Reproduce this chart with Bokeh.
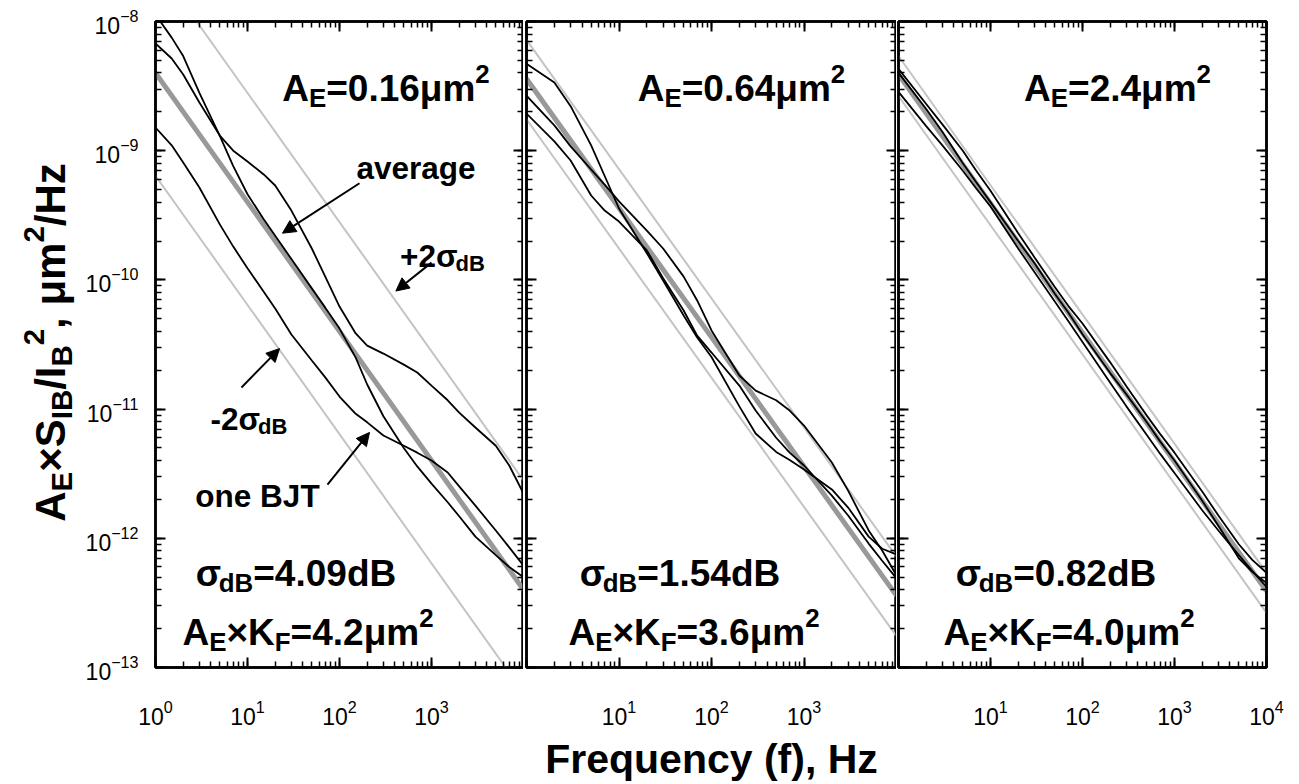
import math
from bokeh.plotting import figure
from bokeh.models import Range1d, LogAxis, LogTicker, Label, Arrow, NormalHead
from bokeh.layouts import row
from bokeh.embed import file_html
from bokeh.resources import INLINE

# ---------------- data ----------------
FREQ_1 = [1, 1.5, 2, 3, 5, 7, 10, 15, 20, 30, 50, 70, 100, 150, 200, 300,
          500, 700, 1000, 1500, 2000, 3000, 5000, 7000, 10000]
P1_BJT_A = [1.13e-8, 7.5e-9, 5.4e-9, 2.8e-9, 1.3e-9, 7.6e-10, 4.6e-10, 2.95e-10,
            2.2e-10, 1.45e-10, 8.6e-11, 6.1e-11, 4.2e-11, 2.5e-11, 1.55e-11,
            8.8e-12, 5.0e-12, 3.6e-12, 2.65e-12, 1.9e-12, 1.48e-12, 1.03e-12,
            7.4e-13, 6.0e-13, 5.0e-13]
P1_BJT_B = [6.76e-9, 5.17e-9, 3.89e-9, 2.36e-9, 1.31e-9, 1.0e-9, 8.25e-10, 6.55e-10,
            5.38e-10, 3.44e-10, 1.75e-10, 1.06e-10, 6.22e-11, 3.85e-11, 3.1e-11,
            2.69e-11, 2.21e-11, 1.92e-11, 1.52e-11, 1.17e-11, 9.4e-12, 7.2e-12,
            5.2e-12, 3.66e-12, 2.22e-12]
P1_BJT_C = [1.51e-9, 1.10e-9, 8.1e-10, 5.19e-10, 2.69e-10, 1.81e-10, 1.23e-10, 8.1e-11,
            6.0e-11, 3.78e-11, 2.38e-11, 1.76e-11, 1.25e-11, 9.2e-12, 7.9e-12,
            6.25e-12, 5.2e-12, 4.6e-12, 4.0e-12, 3.23e-12, 2.52e-12, 1.79e-12,
            1.15e-12, 8.5e-13, 6.15e-13]

FREQ = [1, 2, 3, 5, 7, 10, 20, 30, 50, 70, 100, 200, 300, 500, 700, 1000,
        2000, 3000, 5000, 7000, 10000]
P2_BJT_A = [4.71e-9, 3.37e-9, 2.21e-9, 1.10e-9, 6.37e-10, 3.57e-10, 1.61e-10, 9.9e-11,
            5.3e-11, 3.58e-11, 2.53e-11, 1.05e-11, 6.47e-12, 4.66e-12, 4.04e-12,
            3.41e-12, 2.39e-12, 1.73e-12, 1.03e-12, 8.3e-13, 7.5e-13]
P2_BJT_B = [2.67e-9, 1.57e-9, 1.08e-9, 7.15e-10, 5.47e-10, 4.05e-10, 2.41e-10, 1.75e-10,
            1.06e-10, 6.93e-11, 4.06e-11, 1.82e-11, 1.39e-11, 1.17e-11, 9.75e-12,
            7.46e-12, 3.86e-12, 2.34e-12, 1.15e-12, 8.05e-13, 5.15e-13]
P2_BJT_C = [1.94e-9, 1.18e-9, 8.4e-10, 4.5e-10, 3.44e-10, 2.83e-10, 1.69e-10, 1.03e-10,
            5.8e-11, 3.7e-11, 2.74e-11, 1.52e-11, 9.75e-12, 6.0e-12, 4.6e-12,
            3.66e-12, 2.14e-12, 1.5e-12, 9.1e-13, 6.7e-13, 4.9e-13]

P3_BJT_A = [4.3e-9, 2.3e-9, 1.6e-9, 1.0e-9, 7.0e-10, 4.9e-10, 2.3e-10, 1.5e-10,
            8.8e-11, 6.3e-11, 4.6e-11, 2.3e-11, 1.5e-11, 8.9e-12, 6.4e-12,
            4.6e-12, 2.3e-12, 1.5e-12, 9.0e-13, 6.8e-13, 5.4e-13]
P3_BJT_B = [4.0e-9, 2.1e-9, 1.4e-9, 8.0e-10, 5.7e-10, 4.0e-10, 2.0e-10, 1.35e-10,
            7.8e-11, 5.6e-11, 3.8e-11, 1.9e-11, 1.3e-11, 7.9e-12, 5.6e-12,
            4.0e-12, 1.95e-12, 1.25e-12, 7.0e-13, 5.5e-13, 4.5e-13]
P3_BJT_C = [2.85e-9, 1.55e-9, 1.1e-9, 7.0e-10, 5.1e-10, 3.7e-10, 1.75e-10, 1.15e-10,
            6.8e-11, 4.8e-11, 3.3e-11, 1.6e-11, 1.05e-11, 6.3e-12, 4.5e-12,
            3.2e-12, 1.65e-12, 1.15e-12, 7.4e-13, 5.6e-13, 4.2e-13]

ENDS = [1, 10000]
P1_AVG = [4.0e-9, 4.0e-13]
P1_UP = [2.8e-8, 2.8e-12]
P1_LO = [6.4e-10, 6.4e-14]
P2_AVG = [3.6e-9, 3.6e-13]
P2_UP = [7.2e-9, 7.2e-13]
P2_LO = [1.75e-9, 1.75e-13]
P3_AVG = [3.9e-9, 3.9e-13]
P3_UP = [5.4e-9, 5.4e-13]
P3_LO = [2.65e-9, 2.65e-13]

# x tick labels that are left out in each panel
X_HIDE_P1 = [10000]
X_HIDE_P2 = [1, 10000]
X_HIDE_P3 = [1]

# ---------------- layout constants ----------------
FRAME_TOP = 21
FRAME_H = 646
FRAME_BOTTOM = FRAME_TOP + FRAME_H
BOTTOM_BORDER = 784 - FRAME_BOTTOM
TITLE_W = 82
FONT = "Liberation Sans"
BIG = 37
ANN = 31.5

# Arial/Liberation Sans Bold advance widths (1/1000 em)
W = {' ': 278, '+': 584, ',': 278, '-': 333, '.': 278, '/': 278, '=': 584,
     '(': 333, ')': 333, 'A': 722, 'B': 722, 'E': 667, 'F': 611, 'H': 722,
     'I': 278, 'J': 556, 'K': 722, 'S': 667, 'T': 611, 'a': 556, 'd': 611,
     'e': 556, 'g': 611, 'm': 889, 'n': 611, 'o': 611, 'r': 389, 'v': 556,
     'z': 500, 'μ': 611, '×': 584, 'σ': 620}
for _d in "0123456789":
    W[_d] = 556

RATIO = 0.7


def tw(s, size):
    return sum(W.get(c, 600) for c in s) / 1000.0 * size


def run_size(kind, size):
    return size if kind == "n" else size * RATIO


def rich(p, left, runs, cx, base, size, rotated=False):
    """Place a sequence of (text, kind) runs; kind n/sub/sup. Window coords."""
    total = sum(tw(t, run_size(k, size)) for t, k in runs)
    if not rotated:
        x = cx - total / 2.0
        for t, k in runs:
            s = run_size(k, size)
            dy = 0 if k == "n" else (-0.26 * size if k == "sub" else 0.40 * size)
            p.add_layout(Label(x=x - left, y=(FRAME_BOTTOM - base) + dy,
                               x_units="screen", y_units="screen", text=t,
                               text_font=FONT, text_font_style="bold",
                               text_font_size=f"{s:.1f}px", text_color="black",
                               text_align="left", text_baseline="alphabetic"))
            x += tw(t, s)
    else:
        y = cx + total / 2.0
        for t, k in runs:
            s = run_size(k, size)
            dx = 0 if k == "n" else (0.26 * size if k == "sub" else -0.40 * size)
            p.add_layout(Label(x=base + dx - left, y=FRAME_BOTTOM - y,
                               x_units="screen", y_units="screen", text=t,
                               angle=math.pi / 2, text_font=FONT,
                               text_font_style="bold",
                               text_font_size=f"{s:.1f}px", text_color="black",
                               text_align="left", text_baseline="alphabetic"))
            y -= tw(t, s)


def style_axis(ax, labels, hide=()):
    ax.ticker = LogTicker(num_minor_ticks=10)
    ax.axis_line_color = "black"
    ax.axis_line_width = 2.5
    ax.major_tick_in = 10
    ax.major_tick_out = 0
    ax.minor_tick_in = 6
    ax.minor_tick_out = 0
    ax.major_tick_line_color = "black"
    ax.major_tick_line_width = 2
    ax.minor_tick_line_color = "black"
    ax.minor_tick_line_width = 1.5
    if labels:
        ax.major_label_text_font = FONT
        ax.major_label_text_font_size = "23px"
        ax.major_label_text_color = "black"
        if hide:
            ax.major_label_overrides = {h: "" for h in hide}
    else:
        ax.major_label_text_font_size = "1px"
        ax.major_label_text_alpha = 0
        ax.major_label_standoff = 0


def make_panel(border_left, frame_w, border_right, xhide, ylabels):
    p = figure(frame_width=frame_w, frame_height=FRAME_H,
               x_axis_type="log", y_axis_type="log",
               x_range=Range1d(1, 1e4), y_range=Range1d(1e-13, 1e-8),
               output_backend="svg", toolbar_location=None,
               min_border_left=border_left, min_border_right=border_right,
               min_border_top=FRAME_TOP, min_border_bottom=BOTTOM_BORDER,
               background_fill_color="white", border_fill_color="white")
    p.outline_line_color = "black"
    p.outline_line_width = 2.5
    p.xgrid.visible = False
    p.ygrid.visible = False
    bx = p.xaxis[0]
    style_axis(bx, True, xhide)
    bx.major_label_standoff = 32
    ly = p.yaxis[0]
    style_axis(ly, ylabels)
    if ylabels:
        ly.major_label_standoff = 17
    ry = LogAxis()
    style_axis(ry, False)
    p.add_layout(ry, "right")
    tx = LogAxis()
    style_axis(tx, False)
    p.add_layout(tx, "above")
    return p, bx


def draw_lines(p, avg, up, lo, freq, curves):
    p.line(ENDS, up, line_color="#c4c4c4", line_width=2)
    p.line(ENDS, lo, line_color="#c4c4c4", line_width=2)
    p.line(ENDS, avg, line_color="#999999", line_width=5)
    for c in curves:
        p.line(freq, c, line_color="black", line_width=1.8)


def arrow(p, xs, ys, xe, ye):
    p.add_layout(Arrow(x_start=xs, y_start=ys, x_end=xe, y_end=ye,
                       line_color="black", line_width=2,
                       end=NormalHead(size=13, fill_color="black",
                                      line_color="black", line_width=1)))


# ---------------- y-title strip ----------------
pt = figure(frame_width=TITLE_W, frame_height=FRAME_H,
            x_range=Range1d(0, 1), y_range=Range1d(0, 1),
            x_axis_location=None, y_axis_location=None,
            output_backend="svg", toolbar_location=None,
            min_border_left=0, min_border_right=0,
            min_border_top=FRAME_TOP, min_border_bottom=BOTTOM_BORDER,
            background_fill_color="white", border_fill_color="white")
pt.outline_line_color = None
pt.xgrid.visible = False
pt.ygrid.visible = False
rich(pt, 0, [("A", "n"), ("E", "sub"), ("×S", "n"), ("IB", "sub"), ("/I", "n"),
             ("B", "sub"), ("2", "sup"), (", μm", "n"), ("2", "sup"), ("/Hz", "n")],
     342, 50, 42, rotated=True)

# ---------------- panels ----------------
L1, L2, L3 = 154, 525, 897
p1, b1 = make_panel(154 - TITLE_W, 368, 0, X_HIDE_P1, True)
p2, b2 = make_panel(3, 370, 0, X_HIDE_P2, False)
p3, b3 = make_panel(2, 368, 34, X_HIDE_P3, False)

draw_lines(p1, P1_AVG, P1_UP, P1_LO, FREQ_1, [P1_BJT_A, P1_BJT_B, P1_BJT_C])
draw_lines(p2, P2_AVG, P2_UP, P2_LO, FREQ, [P2_BJT_A, P2_BJT_B, P2_BJT_C])
draw_lines(p3, P3_AVG, P3_UP, P3_LO, FREQ, [P3_BJT_A, P3_BJT_B, P3_BJT_C])

# arrows (panel 1)
arrow(p1, 165, 5.6e-10, 24, 2.3e-10)      # average
arrow(p1, 1000, 1.36e-10, 410, 8.2e-11)   # +2 sigma
arrow(p1, 8.6, 1.47e-11, 22.3, 2.94e-11)  # -2 sigma
arrow(p1, 74, 2.6e-12, 212, 6.6e-12)      # one BJT

# panel texts
rich(p1, L1, [("A", "n"), ("E", "sub"), ("=0.16μm", "n"), ("2", "sup")], 384.5, 88, BIG)
rich(p1, L1, [("average", "n")], 414.5, 167, ANN)
rich(p1, L1, [("+2σ", "n"), ("dB", "sub")], 441, 255, ANN)
rich(p1, L1, [("-2σ", "n"), ("dB", "sub")], 247.5, 418, ANN)
rich(p1, L1, [("one BJT", "n")], 256, 495, ANN)
rich(p1, L1, [("σ", "n"), ("dB", "sub"), ("=4.09dB", "n")], 294.5, 573, BIG)
rich(p1, L1, [("A", "n"), ("E", "sub"), ("×K", "n"), ("F", "sub"), ("=4.2μm", "n"), ("2", "sup")], 306.5, 632, BIG)

rich(p2, L2, [("A", "n"), ("E", "sub"), ("=0.64μm", "n"), ("2", "sup")], 740, 88, BIG)
rich(p2, L2, [("σ", "n"), ("dB", "sub"), ("=1.54dB", "n")], 678.5, 573, BIG)
rich(p2, L2, [("A", "n"), ("E", "sub"), ("×K", "n"), ("F", "sub"), ("=3.6μm", "n"), ("2", "sup")], 692.5, 632, BIG)

rich(p3, L3, [("A", "n"), ("E", "sub"), ("=2.4μm", "n"), ("2", "sup")], 1116, 88, BIG)
rich(p3, L3, [("σ", "n"), ("dB", "sub"), ("=0.82dB", "n")], 1054.5, 573, BIG)
rich(p3, L3, [("A", "n"), ("E", "sub"), ("×K", "n"), ("F", "sub"), ("=4.0μm", "n"), ("2", "sup")], 1067.5, 632, BIG)

# x-axis title on middle panel
b2.axis_label = "Frequency (f), Hz"
b2.axis_label_text_font = FONT
b2.axis_label_text_font_style = "bold"
b2.axis_label_text_font_size = "41px"
b2.axis_label_text_color = "black"
b2.axis_label_standoff = 8

layout = row(pt, p1, p2, p3)
open("out.html", "w").write(file_html(layout, INLINE))
